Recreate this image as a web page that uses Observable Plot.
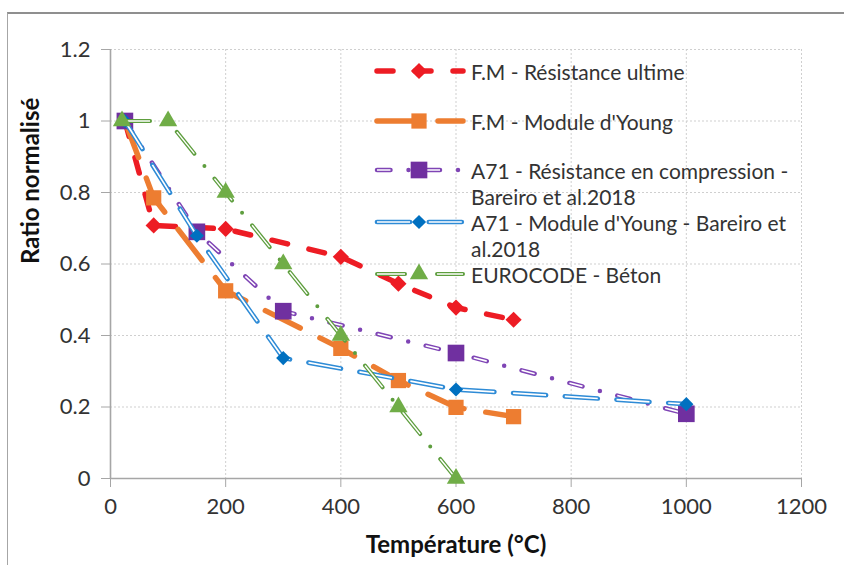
<!DOCTYPE html>
<html>
<head>
<meta charset="utf-8">
<script src="https://cdn.jsdelivr.net/npm/d3@7"></script>
<script src="https://cdn.jsdelivr.net/npm/@observablehq/plot@0.6"></script>
<style>
  html, body { margin: 0; padding: 0; background: #fff; }
  #wrap { position: relative; width: 844px; height: 565px; overflow: hidden; font-family: Lato, sans-serif; }
  #frame { position: absolute; left: 7px; top: 12px; width: 900px; height: 700px;
           border-left: 1.5px solid #a6a6a6; border-top: 2px solid #8f8f8f; box-sizing: border-box; }
  #chart, #legend { position: absolute; left: 0; top: 0; }
</style>
</head>
<body>
<div id="wrap"><div id="frame"></div><div id="chart"></div><svg id="legend" width="844" height="565"></svg></div>
<script>
// ---- data ----
const xTicks = [0, 200, 400, 600, 800, 1000, 1200];
const xTickLabels = ["0", "200", "400", "600", "800", "1000", "1200"];
const yTicks = [0, 0.2, 0.4, 0.6, 0.8, 1.0, 1.2];
const yTickLabels = ["0", "0.2", "0.4", "0.6", "0.8", "1", "1.2"];

const fmResX = [25, 75, 200, 400, 500, 600, 700];
const fmResY = [1.0, 0.708, 0.698, 0.62, 0.545, 0.478, 0.444];

const fmModX = [25, 75, 200, 400, 500, 600, 700];
const fmModY = [1.0, 0.785, 0.525, 0.364, 0.274, 0.199, 0.173];

const a71ResX = [25, 150, 300, 600, 1000];
const a71ResY = [1.0, 0.69, 0.468, 0.351, 0.181];

const a71ModX = [25, 150, 300, 600, 1000];
const a71ModY = [1.0, 0.679, 0.337, 0.249, 0.208];

const ecX = [20, 100, 200, 300, 400, 500, 600];
const ecY = [1.0, 1.0, 0.8, 0.6, 0.4, 0.2, 0.0];

const legendLabels = [
  "F.M - Résistance ultime",
  "F.M - Module d'Young",
  "A71 - Résistance en compression - Bareiro et al.2018",
  "A71 - Module d'Young - Bareiro et al.2018",
  "EUROCODE - Béton"
];

const xTitle = "Température (°C)";
const yTitle = "Ratio normalisé";

// ---- styles ----
const styles = [
  {x: fmResX, y: fmResY, color: "#ED1C24", width: 5.5, dash: [16, 22], double: false,
   symbol: "diamond2", d3symbol: d3.symbolDiamond2, r: 7.3, mfill: "#ED1C24"},
  {x: fmModX, y: fmModY, color: "#ED7D31", width: 5.5, dash: [39, 22], double: false,
   symbol: "square", d3symbol: d3.symbolSquare, r: 8.6, mfill: "#ED7D31"},
  {x: a71ResX, y: a71ResY, color: "#7F45B5", width: 4.5, dash: [13.5, 18, 0, 18], double: true,
   symbol: "square", d3symbol: d3.symbolSquare, r: 9.4, mfill: "#7030A0"},
  {x: a71ModX, y: a71ModY, color: "#2E8BD6", width: 4.7, dash: [33, 18.8], double: true,
   symbol: "diamond2", d3symbol: d3.symbolDiamond2, r: 6.4, mfill: "#0070C0"},
  {x: ecX, y: ecY, color: "#5E9E3E", width: 4, dash: [28, 16, 0, 16], double: true,
   symbol: "triangle", d3symbol: d3.symbolTriangle, r: 6.8, mfill: "#70AD47"}
];

const gridStyle = {stroke: "#cfcfcf", strokeOpacity: 1, strokeDasharray: "2,2", strokeWidth: 1};
const axisColor = "#a6a6a6";

const seriesMarks = [];
for (const s of styles) {
  const data = s.x.map((x, i) => ({x, y: s.y[i]}));
  seriesMarks.push(Plot.line(data, {x: "x", y: "y", stroke: s.color, strokeWidth: s.width,
    strokeDasharray: s.dash.join(","), strokeLinecap: "round", strokeLinejoin: "round"}));
  if (s.double) {
    seriesMarks.push(Plot.line(data, {x: "x", y: "y", stroke: "#ffffff", strokeWidth: s.width * 0.36,
      strokeDasharray: s.dash.join(","), strokeLinecap: "butt", strokeLinejoin: "round"}));
  }
  seriesMarks.push(Plot.dot(data, {x: "x", y: "y", symbol: s.symbol, r: s.r, fill: s.mfill, stroke: "none"}));
}

const plot = Plot.plot({
  width: 844,
  height: 565,
  marginLeft: 110,
  marginRight: 43,
  marginTop: 49,
  marginBottom: 87,
  x: {domain: [0, 1200]},
  y: {domain: [0, 1.2]},
  style: {fontFamily: "Lato, sans-serif", fontSize: "22px", color: "#333", background: "transparent"},
  marks: [
    Plot.gridX(xTicks.slice(1), gridStyle),
    Plot.gridY(yTicks.slice(1), gridStyle),
    Plot.axisY(yTicks, {tickSize: 9, tickPadding: 11, stroke: axisColor, fill: "#333", fontSize: 22,
      tickFormat: d => yTickLabels[yTicks.indexOf(d)], label: null}),
    Plot.axisX(xTicks, {tickSize: 9, tickPadding: 11, stroke: axisColor, fill: "#333", fontSize: 22,
      tickFormat: d => xTickLabels[xTicks.indexOf(d)], label: null}),
    Plot.ruleX([0], {y1: 0, y2: 1.2, stroke: axisColor, strokeWidth: 1.6}),
    Plot.ruleY([0], {x1: 0, x2: 1200, stroke: axisColor, strokeWidth: 1.6}),
    ...seriesMarks,
    Plot.text([xTitle], {frameAnchor: "bottom", dy: 74, fontWeight: "bold", fontSize: 24, fill: "#111"}),
    Plot.text([yTitle], {frameAnchor: "left", dx: -79, rotate: -90, fontWeight: "bold", fontSize: 24, fill: "#111"})
  ]
});
document.getElementById("chart").appendChild(plot);

// ---- legend (overlay) ----
const leg = d3.select("#legend");
const rowY = [71, 121, 170, 222, 274];
const lineH = 26;
const symX0 = 377, symX1 = 463, symXc = 419, textX = 471, maxW = 335;
const legendFont = 21;
const ctx = document.createElement("canvas").getContext("2d");
ctx.font = legendFont + "px Lato";
function wrap(str) {
  const words = str.split(" ");
  const lines = [];
  let cur = "";
  for (const w of words) {
    const t = cur ? cur + " " + w : w;
    if (ctx.measureText(t).width > maxW && cur) { lines.push(cur); cur = w; }
    else cur = t;
  }
  if (cur) lines.push(cur);
  return lines;
}
styles.forEach((s, i) => {
  const y = rowY[i];
  const g = leg.append("g");
  g.append("line").attr("x1", symX0).attr("x2", symX1).attr("y1", y).attr("y2", y)
    .attr("stroke", s.color).attr("stroke-width", s.width).attr("stroke-linecap", "round")
    .attr("stroke-dasharray", s.dash.join(","));
  if (s.double) {
    g.append("line").attr("x1", symX0).attr("x2", symX1).attr("y1", y).attr("y2", y)
      .attr("stroke", "#fff").attr("stroke-width", s.width * 0.36).attr("stroke-linecap", "butt")
      .attr("stroke-dasharray", s.dash.join(","));
  }
  g.append("path").attr("transform", `translate(${symXc},${y})`)
    .attr("d", d3.symbol(s.d3symbol, s.r * s.r * Math.PI)()).attr("fill", s.mfill);
  const lines = wrap(legendLabels[i]);
  const t = g.append("text").attr("font-family", "Lato, sans-serif").attr("font-size", legendFont)
    .attr("fill", "#333").attr("dominant-baseline", "central");
  lines.forEach((ln, j) => {
    t.append("tspan").attr("x", textX).attr("y", y + j * lineH).text(ln);
  });
});
</script>
</body>
</html>
